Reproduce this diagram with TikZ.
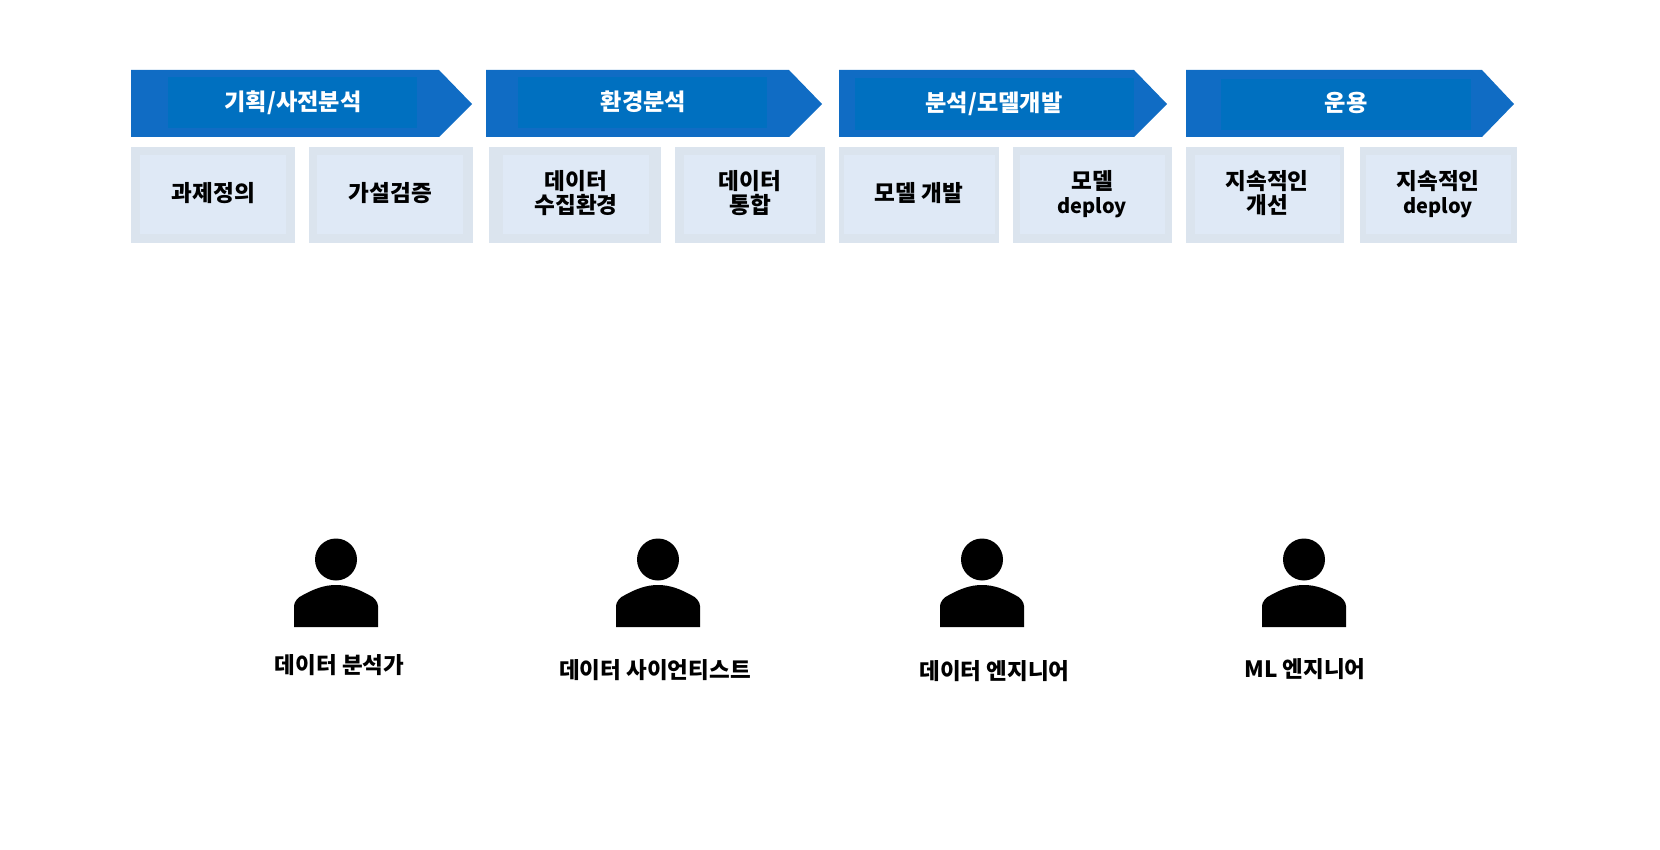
\documentclass[tikz,border=0pt]{standalone}
\usepackage{fontspec}
\setmainfont{Noto Sans CJK KR}
\definecolor{stageblue}{HTML}{106CC4}
\definecolor{stageinner}{HTML}{0070C0}
\definecolor{taskouter}{HTML}{DBE4EE}
\definecolor{taskinner}{HTML}{DFE9F6}
\tikzstyle{stagetitle}=[text=white, inner sep=0, font=\bfseries\fontsize{23.2}{26}\selectfont, text height=17pt, text depth=4pt]
\tikzstyle{tasktext}=[text=black, inner sep=0, align=center, font=\bfseries\fontsize{22.6}{24.5}\selectfont]
\tikzstyle{rolename}=[text=black, inner sep=0, font=\bfseries\fontsize{22.5}{26}\selectfont, text height=17pt, text depth=4pt]
\tikzset{personicon/.pic={
	\fill[black] (0, 559.5) circle (21);
	\fill[black] (-42, 627) -- (-42, 606) .. controls (-42, 602) and (-38, 597) .. (-33, 595)
		.. controls (-22, 589) and (-12, 585) .. (0, 585)
		.. controls (12, 585) and (22, 589) .. (33, 595)
		.. controls (38, 597) and (42, 602) .. (42, 606) -- (42, 627) -- cycle;
}}

\begin{document}
\begin{tikzpicture}[x=1pt, y=-1pt]
		   \useasboundingbox (0, 0) rectangle (1660, 850);
		   \begin{scope}
			   \fill [stageblue] (131, 70) -- (439, 70) -- (472, 104) -- (439, 137) -- (131, 137) -- cycle;
			   \fill [stageinner] (168, 77) rectangle (417, 128);
			   \fill [stageblue] (486, 70) -- (789, 70) -- (822, 104) -- (789, 137) -- (486, 137) -- cycle;
			   \fill [stageinner] (518, 77) rectangle (767, 128);
			   \fill [stageblue] (839, 70) -- (1134, 70) -- (1167, 104) -- (1134, 137) -- (839, 137) -- cycle;
			   \fill [stageinner] (855, 78) rectangle (1134, 130);
			   \fill [stageblue] (1186, 70) -- (1482, 70) -- (1514, 104) -- (1482, 137) -- (1186, 137) -- cycle;
			   \fill [stageinner] (1221, 79) rectangle (1471, 130);

			   \node (plan) at (293, 104)[stagetitle] {기획/사전분석};
			   \node (env) at (643.5, 104)[stagetitle] {환경분석};
			   \node (model) at (994, 105)[stagetitle] {분석/모델개발};
			   \node (ops) at (1346, 105)[stagetitle] {운용};
		   \end{scope}
		   \begin{scope}
			   \fill [taskouter] (131, 147) rectangle (295, 243);
			   \fill [taskinner] (140, 155) rectangle (286, 234);
			   \fill [taskouter] (309, 147) rectangle (473, 243);
			   \fill [taskinner] (317, 155) rectangle (463, 234);
			   \fill [taskouter] (489, 147) rectangle (661, 243);
			   \fill [taskinner] (503, 155) rectangle (649, 234);
			   \fill [taskouter] (675, 147) rectangle (825, 243);
			   \fill [taskinner] (684, 155) rectangle (816, 234);
			   \fill [taskouter] (839, 147) rectangle (999, 243);
			   \fill [taskinner] (844, 155) rectangle (995, 234);
			   \fill [taskouter] (1013, 147) rectangle (1172, 243);
			   \fill [taskinner] (1020, 155) rectangle (1165, 234);
			   \fill [taskouter] (1186, 147) rectangle (1344, 243);
			   \fill [taskinner] (1195, 155) rectangle (1340, 234);
			   \fill [taskouter] (1360, 147) rectangle (1517, 243);
			   \fill [taskinner] (1366, 155) rectangle (1511, 234);

			   \node (task1) at (213.5, 193)[tasktext] {과제정의};
			   \node (task2) at (390.5, 193)[tasktext] {가설검증};
			   \node (task3) at (576, 193)[tasktext] {데이터\\수집환경};
			   \node (task4) at (750, 193)[tasktext] {데이터\\통합};
			   \node (task5) at (919, 193)[tasktext] {모델 개발};
			   \node (task6) at (1092, 194)[tasktext] {모델\\{\fontsize{20}{24.5}\selectfont deploy}};
			   \node (task7) at (1267, 193)[tasktext] {지속적인\\개선};
			   \node (task8) at (1438, 194)[tasktext] {지속적인\\{\fontsize{20}{24.5}\selectfont deploy}};
		   \end{scope}
		   \begin{scope}
			   \pic at (336, 0) {personicon};
			   \pic at (658, 0) {personicon};
			   \pic at (982, 0) {personicon};
			   \pic at (1304, 0) {personicon};

			   \node (role1) at (339.5, 667)[rolename] {데이터 분석가};
			   \node (role2) at (655, 672)[rolename] {데이터 사이언티스트};
			   \node (role3) at (994.5, 672.5)[rolename] {데이터 엔지니어};
			   \node (role4) at (1305, 670.5)[rolename] {ML 엔지니어};
		   \end{scope}
	   \end{tikzpicture}
\end{document}
